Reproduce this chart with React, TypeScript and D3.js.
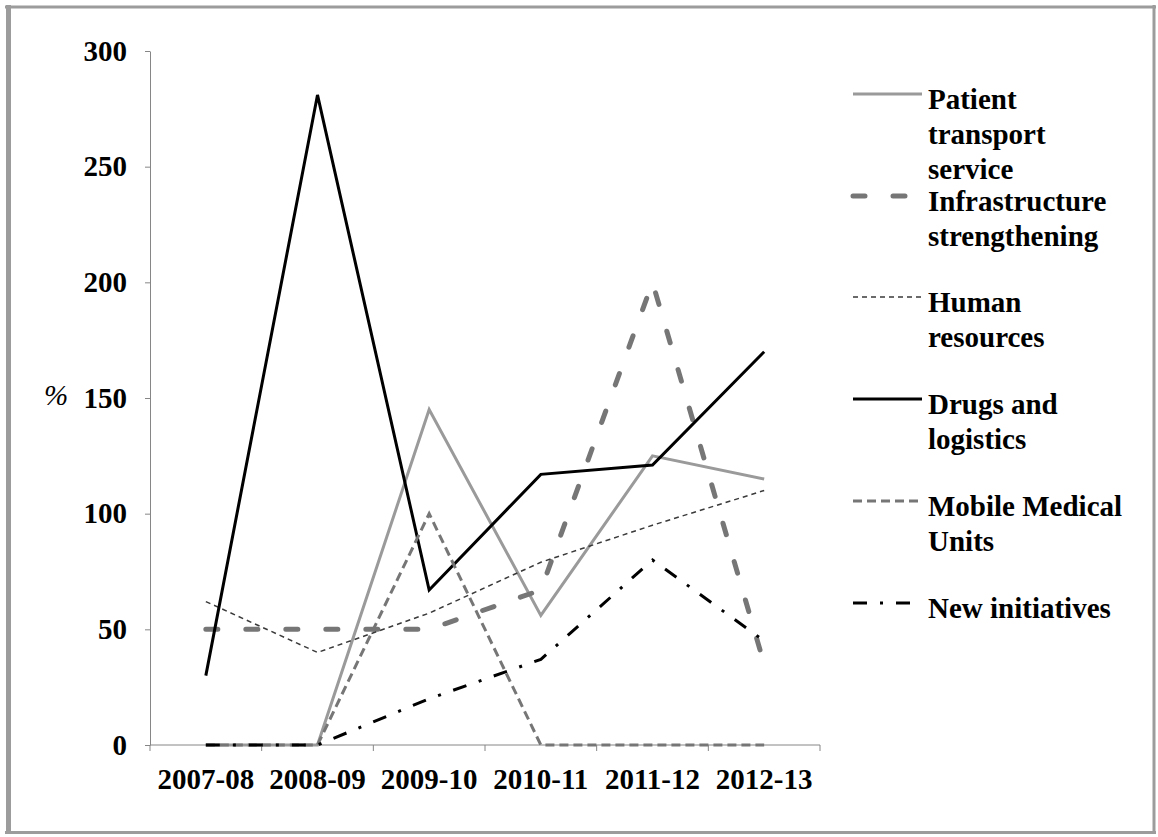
import React, { useEffect, useRef } from 'react';
import * as d3 from 'd3';

const years = ['2007-08', '2008-09', '2009-10', '2010-11', '2011-12', '2012-13'];

const patientTransport = [0, 0, 145, 56, 125, 115];
const infrastructure = [50, 50, 50, 67, 200, 35];
const humanResources = [62, 40, 57, 79, 95, 110];
const drugsLogistics = [30, 281, 67, 117, 121, 170];
const mobileMedical = [0, 0, 100, 0, 0, 0];
const newInitiatives = [0, 0, 20, 37, 80, 45];

const yTicks = [0, 50, 100, 150, 200, 250, 300];

interface Series {
  name: string[];
  values: number[];
  color: string;
  width: number;
  dash: string | null;
  cap: string;
}

const series: Series[] = [
  { name: ['Patient', 'transport', 'service'], values: patientTransport, color: '#9a9a9a', width: 3, dash: null, cap: 'butt' },
  { name: ['Infrastructure', 'strengthening'], values: infrastructure, color: '#767676', width: 5, dash: '12 28', cap: 'round' },
  { name: ['Human', 'resources'], values: humanResources, color: '#3a3a3a', width: 1.5, dash: '5 4', cap: 'butt' },
  { name: ['Drugs and', 'logistics'], values: drugsLogistics, color: '#000000', width: 3, dash: null, cap: 'butt' },
  { name: ['Mobile Medical', 'Units'], values: mobileMedical, color: '#767676', width: 3, dash: '9 5', cap: 'butt' },
  { name: ['New initiatives'], values: newInitiatives, color: '#000000', width: 3, dash: '14 13 3 13', cap: 'butt' },
];

const FONT = "'Liberation Serif', 'Times New Roman', Times, serif";

const App: React.FC = () => {
  const svgRef = useRef<SVGSVGElement>(null);

  useEffect(() => {
    if (!svgRef.current) return;
    const svg = d3.select(svgRef.current);
    svg.selectAll('*').remove();

    // outer frame
    const frame = [
      [5, 7, 1156, 7],
      [1154, 5, 1154, 834],
      [5, 832.5, 1156, 832.5],
      [8.5, 5, 8.5, 834],
    ];
    svg.selectAll('line.frame')
      .data(frame)
      .enter().append('line')
      .attr('class', 'frame')
      .attr('x1', d => d[0]).attr('y1', d => d[1])
      .attr('x2', d => d[2]).attr('y2', d => d[3])
      .attr('stroke', '#9c9c9c')
      .attr('stroke-width', (_, i) => (i === 3 ? 5 : 3));

    const x = d3.scaleBand<string>().domain(years).range([150, 820]);
    const y = d3.scaleLinear().domain([0, 300]).range([745, 51]);

    // y axis
    const yAxis = svg.append('g')
      .attr('transform', 'translate(150,0)')
      .call(d3.axisLeft(y).tickValues(yTicks).tickSize(5).tickPadding(18).tickSizeOuter(0));
    yAxis.attr('font-family', null).attr('font-size', null);
    yAxis.select('.domain').attr('stroke', '#868686');
    yAxis.selectAll('.tick line').attr('stroke', '#868686');
    yAxis.selectAll('.tick text')
      .style('font-family', FONT)
      .style('font-size', '29px')
      .style('font-weight', 'bold')
      .attr('fill', '#000');

    // x axis
    svg.append('line')
      .attr('x1', 150).attr('x2', 820)
      .attr('y1', y(0)).attr('y2', y(0))
      .attr('stroke', '#868686');
    const boundaries = years.map(d => x(d) as number).concat([820]);
    svg.selectAll('line.xtick')
      .data(boundaries)
      .enter().append('line')
      .attr('class', 'xtick')
      .attr('x1', d => d).attr('x2', d => d)
      .attr('y1', y(0)).attr('y2', y(0) + 6)
      .attr('stroke', '#868686');
    svg.selectAll('text.xlabel')
      .data(years)
      .enter().append('text')
      .attr('class', 'xlabel')
      .attr('x', d => (x(d) as number) + x.bandwidth() / 2)
      .attr('y', 789)
      .attr('text-anchor', 'middle')
      .style('font-family', FONT)
      .style('font-size', '29px')
      .style('font-weight', 'bold')
      .text(d => d);

    // axis title
    svg.append('text')
      .attr('x', 56).attr('y', 405)
      .attr('text-anchor', 'middle')
      .style('font-family', FONT)
      .style('font-size', '29px')
      .style('font-style', 'italic')
      .text('%');

    const line = d3.line<number>()
      .x((_, i) => (x(years[i]) as number) + x.bandwidth() / 2)
      .y(d => y(d));

    series.forEach(s => {
      svg.append('path')
        .datum(s.values)
        .attr('fill', 'none')
        .attr('stroke', s.color)
        .attr('stroke-width', s.width)
        .attr('stroke-dasharray', s.dash)
        .attr('stroke-linecap', s.cap)
        .attr('stroke-linejoin', 'miter')
        .attr('d', line);
    });

    // legend
    const legendY = [94, 196, 297, 399, 501, 603];
    series.forEach((s, i) => {
      const g = svg.append('g').attr('transform', `translate(0,${legendY[i]})`);
      g.append('line')
        .attr('x1', 853).attr('x2', 922)
        .attr('y1', 0).attr('y2', 0)
        .attr('stroke', s.color)
        .attr('stroke-width', s.width)
        .attr('stroke-dasharray', s.dash)
        .attr('stroke-linecap', s.cap);
      const t = g.append('text')
        .style('font-family', FONT)
        .style('font-size', '29px')
        .style('font-weight', 'bold');
      s.name.forEach((n, j) => {
        t.append('tspan')
          .attr('x', 928)
          .attr('y', 15 + j * 35)
          .text(n);
      });
    });
  }, []);

  return (
    <div style={{ position: 'absolute', left: 0, top: 0 }}>
      <svg ref={svgRef} width={1158} height={837} style={{ display: 'block', background: '#fff' }}></svg>
    </div>
  );
};

export default App;
